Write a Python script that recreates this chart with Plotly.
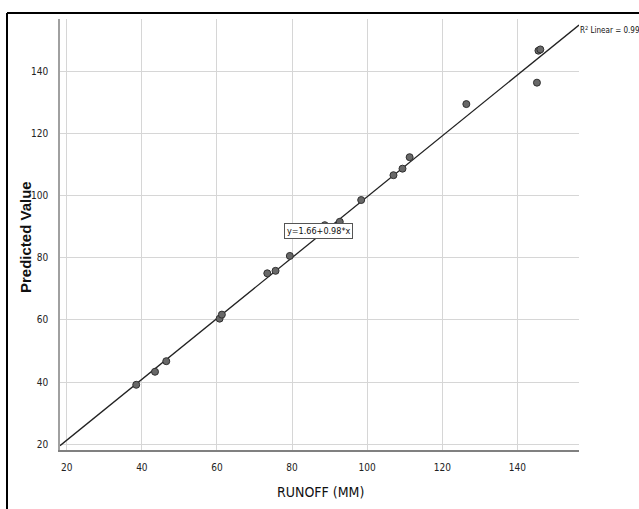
import plotly.graph_objects as go

# Data
runoff = [38.5, 43.5, 46.5, 60.7, 61.3, 73.4, 75.6, 79.4, 88.7, 92.7, 98.4,
          107.0, 109.4, 111.3, 126.4, 145.2, 145.6, 146.1]
predicted = [39.1, 43.3, 46.7, 60.4, 61.7, 75.0, 75.8, 80.6, 90.5, 91.6, 98.6,
             106.6, 108.7, 112.4, 129.5, 136.4, 146.7, 147.1]
tick_vals = [20, 40, 60, 80, 100, 120, 140]
intercept = 1.66
slope = 0.98
r2_text = "R<sup>2</sup> Linear = 0.99"
eq_text = "y=1.66+0.98*x"
x_title = "RUNOFF (MM)"
y_title = "<b>Predicted Value</b>"

x_range = [18.2, 156.4]
y_range = [18.1, 156.9]

NARROW = "DejaVu Sans Condensed, Liberation Sans Narrow, Liberation Sans"

# plot area in pixels: left 60, right 579, top 19, bottom 450
PW, PH = 519, 431


def px_x(p):
    return (p - 60) / PW


def px_y(p):
    return (450 - p) / PH


fit_x = x_range
fit_y = [intercept + slope * v for v in fit_x]

fig = go.Figure()
fig.add_trace(go.Scatter(x=fit_x, y=fit_y, mode="lines",
                         line=dict(color="#222222", width=1.3),
                         hoverinfo="skip", showlegend=False, cliponaxis=False))
fig.add_trace(go.Scatter(x=runoff, y=predicted, mode="markers",
                         marker=dict(size=7, color="#686868",
                                     line=dict(color="#303030", width=1)),
                         showlegend=False))

fig.add_annotation(x=87.1, y=88.6, xref="x", yref="y", text=eq_text,
                   showarrow=False, font=dict(family=NARROW, size=9, color="#111"),
                   bgcolor="white", bordercolor="#555555", borderwidth=1, borderpad=2)
fig.add_annotation(x=px_x(578), y=px_y(30), xref="paper", yref="paper",
                   text=r2_text, showarrow=False, xanchor="left", yanchor="middle",
                   font=dict(family=NARROW, size=8, color="#111"))

# axis titles
fig.add_annotation(x=px_x(320), y=px_y(492), xref="paper", yref="paper",
                   text=x_title, showarrow=False, xanchor="center", yanchor="middle",
                   font=dict(family=NARROW, size=14, color="#111"))
fig.add_annotation(x=px_x(25), y=px_y(237), xref="paper", yref="paper",
                   text=y_title, showarrow=False, textangle=-90,
                   xanchor="center", yanchor="middle",
                   font=dict(family="Liberation Sans, Arial", size=15, color="#111"))

# outer frame (left and top edges visible)
fig.add_shape(type="line", xref="paper", yref="paper",
              x0=px_x(7), x1=px_x(700), y0=px_y(13), y1=px_y(13),
              line=dict(color="black", width=2))
fig.add_shape(type="line", xref="paper", yref="paper",
              x0=px_x(7), x1=px_x(7), y0=px_y(13), y1=px_y(600),
              line=dict(color="black", width=2))

fig.update_xaxes(range=x_range, tickvals=tick_vals, showgrid=True,
                 gridcolor="#d6d6d6", gridwidth=1, zeroline=False,
                 showline=True, linecolor="#808080", linewidth=1.5,
                 ticks="", ticklabelstandoff=7, automargin=False,
                 tickfont=dict(family=NARROW, size=10, color="#222"))
fig.update_yaxes(range=y_range, tickvals=tick_vals, showgrid=True,
                 gridcolor="#d6d6d6", gridwidth=1, zeroline=False,
                 showline=True, linecolor="#a0a0a0", linewidth=1.5,
                 ticks="", ticklabelstandoff=8, automargin=False,
                 tickfont=dict(family=NARROW, size=10, color="#222"))

fig.update_layout(width=639, height=509,
                  margin=dict(l=60, r=60, t=19, b=59),
                  paper_bgcolor="white", plot_bgcolor="white")

fig.write_html("out.html", config={"displayModeBar": False},
               post_script="document.body.style.margin='0';document.body.style.overflow='hidden';")
